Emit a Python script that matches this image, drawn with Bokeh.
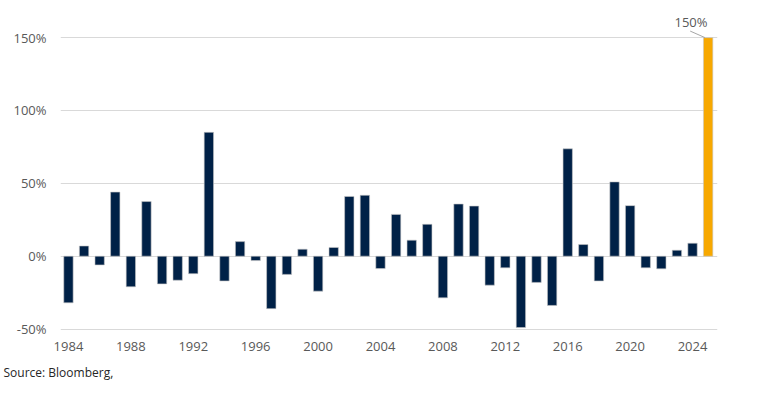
from bokeh.plotting import figure
from bokeh.models import ColumnDataSource, FixedTicker, Range1d, Title
from bokeh.embed import file_html
from bokeh.resources import INLINE
from bokeh.core.properties import value

years = list(range(1984, 2026))
returns = [-32, 7, -6, 44, -21, 37.5, -19, -16.5, -12, 85,
           -17, 10, -3, -36, -12.5, 4.8, -24, 6, 41, 41.8,
           -8.5, 28.7, 11, 21.9, -28.6, 35.8, 34.4, -19.9, -8, -49,
           -18, -33.8, 73.7, 8, -17, 51, 34.7, -8, -8.7, 4.1,
           8.9, 150]
colors = ["#002147"] * (len(years) - 1) + ["#F7A800"]
x_ticks = [1984, 1988, 1992, 1996, 2000, 2004, 2008, 2012, 2016, 2020, 2024]
y_ticks = [-50, 0, 50, 100, 150]
highlight_label = "150%"
source_note = "Source: Bloomberg,"

src = ColumnDataSource(dict(x=years, top=returns, color=colors))

p = figure(frame_width=657, frame_height=322, output_backend="svg",
           toolbar_location=None, x_range=Range1d(1983.49, 2025.6),
           y_range=Range1d(-51, 170),
           min_border_left=60, min_border_right=27, min_border_top=8,
           min_border_bottom=10)

p.vbar(x="x", top="top", bottom=0, width=0.6, color="color",
       line_color="#c8c8c8", line_width=0.6, source=src)

p.outline_line_color = None
p.xgrid.grid_line_color = None
p.ygrid.grid_line_color = "#d9d9d9"
p.ygrid.grid_line_width = 1
p.ygrid.ticker = FixedTicker(ticks=y_ticks)

p.yaxis.ticker = FixedTicker(ticks=y_ticks)
p.yaxis.major_label_overrides = {t: f"{t}%" for t in y_ticks}
p.xaxis.ticker = FixedTicker(ticks=x_ticks)
for ax in (p.xaxis, p.yaxis):
    ax.axis_line_color = None
    ax.major_tick_line_color = None
    ax.minor_tick_line_color = None
    ax.major_label_text_font = "Open Sans"
    ax.major_label_text_font_size = "13px"
    ax.major_label_text_color = "#595959"
p.yaxis.major_label_standoff = 8
p.xaxis.major_label_standoff = 5

# annotation for highlighted bar
p.segment(x0=[years[-1] - 1.15], y0=[returns[-1] + 4.5], x1=[years[-1] - 0.2],
          y1=[returns[-1]], line_color="#a6a6a6", line_width=1)
p.text(x=[years[-1] - 1.1], y=[returns[-1] + 11], text=[highlight_label],
       text_font=value("Open Sans"), text_font_size="13px", text_color="#595959",
       text_align="center", text_baseline="middle")

t = Title(text=source_note, align="left", offset=-57, standoff=16,
          text_font="Open Sans", text_font_size="12px", text_font_style="normal",
          text_color="#262626")
p.add_layout(t, "below")

open("out.html", "w").write(file_html(p, INLINE))
